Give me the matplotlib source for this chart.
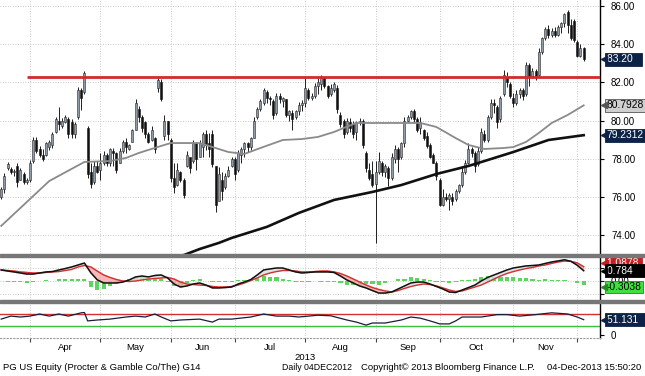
import numpy as np
import matplotlib
matplotlib.use("Agg")
import matplotlib.pyplot as plt
from matplotlib.patches import Rectangle
from matplotlib.ticker import FormatStrFormatter
from matplotlib.transforms import blended_transform_factory

W, H = 645, 376

# daily candles, 18-Mar-2013 .. 04-Dec-2013 (one entry per trading day)
opens = [76.0, 76.4, 77.5, 77.45, 77.3, 77.6, 76.9, 77.2, 76.8,
         76.9, 77.9, 79.0, 78.5, 78.2, 78.2, 78.6, 78.7, 79.4, 80.0, 79.7, 79.9, 80.1, 79.9, 79.3,
         80.2, 81.6, 81.5, 79.6, 77.3, 76.8, 77.6,
         77.4, 77.8, 78.2, 77.8, 78.4, 78.3, 77.8, 78.4, 78.9, 78.5, 78.9, 79.5, 80.6, 80.2, 79.9,
         79.3, 79.0, 79.1, 81.7, 82.0, 79.2, 80.0,
         79.0, 77.0, 76.6, 77.3, 76.9, 77.6, 78.1, 77.9, 78.8, 78.1, 78.6, 79.3, 78.8, 79.3, 77.6,
         75.8, 76.9, 76.5, 77.1, 77.6,
         78.0, 77.4, 78.2, 78.5, 78.8, 78.6, 79.1, 80.2, 80.6, 80.9, 81.5, 81.2, 81.0, 80.4, 81.3,
         81.0, 81.1, 80.3, 80.4, 80.2, 80.5, 80.8,
         80.9, 81.6, 81.2, 81.3, 81.8, 81.9, 82.2, 81.8, 81.4, 81.6, 81.7, 80.3, 80.0, 79.4, 79.9,
         79.8, 79.4, 79.9, 80.0, 78.3, 77.4, 77.2,
         76.7, 77.3, 77.8, 77.3, 77.5, 77.0, 78.0, 78.5, 78.1, 78.8, 80.0, 80.2, 80.5, 80.1, 79.6,
         79.5, 79.2, 78.7, 78.2, 77.8,
         76.9, 75.6, 76.0, 75.9, 76.0, 75.9, 76.3, 76.6, 77.3, 77.8, 78.5, 78.3, 77.7, 78.4, 79.3,
         79.0, 80.2, 80.9, 80.7, 80.1, 81.4, 82.3, 81.9,
         81.2, 80.9, 81.4, 81.6, 81.4, 82.9, 82.3, 82.6, 82.4, 83.6, 84.3, 84.8, 84.5, 84.7, 84.5,
         84.9, 85.1, 85.7, 85.0, 85.2,
         84.1, 83.4, 83.8]
highs = [76.5, 77.25, 77.85, 77.55, 77.45, 77.8, 77.5, 77.3, 77.0,
         77.95, 79.15, 79.15, 78.65, 78.5, 78.9, 79.0, 79.4, 80.2, 80.7, 80.15, 80.3, 80.2, 80.1, 79.9,
         81.75, 81.7, 82.6, 79.7, 77.8, 77.9, 77.9,
         78.3, 78.4, 78.3, 78.55, 78.55, 78.35, 78.55, 79.0, 79.1, 78.75, 79.55, 81.1, 80.75, 80.3, 80.0,
         79.4, 79.7, 79.15, 82.3, 82.15, 80.3, 80.0,
         79.1, 77.8, 77.8, 77.35, 77.0, 78.4, 78.1, 79.0, 78.85, 79.0, 79.4, 79.5, 79.35, 79.5, 77.6,
         77.55, 77.3, 77.25, 77.6, 78.1,
         78.1, 78.45, 78.6, 78.85, 78.85, 79.15, 80.2, 80.7, 81.1, 81.7, 81.6, 81.3, 81.1, 81.45, 81.45,
         81.25, 81.15, 80.55, 80.55, 80.55, 80.95, 81.05,
         82.2, 81.7, 81.45, 81.95, 82.2, 82.4, 82.3, 81.85, 81.9, 82.0, 81.85, 80.45, 80.1, 80.15, 80.15,
         80.0, 80.0, 80.15, 80.1, 78.4, 77.8, 77.9,
         77.9, 78.35, 77.9, 77.7, 77.6, 78.3, 78.7, 78.6, 78.85, 80.2, 80.3, 80.55, 80.6, 80.2, 80.2,
         79.55, 79.4, 78.8, 78.3, 77.9,
         77.0, 76.4, 76.2, 76.2, 76.2, 76.4, 76.7, 77.6, 77.95, 78.8, 78.6, 78.4, 78.6, 79.6, 79.5,
         80.3, 81.1, 81.1, 80.8, 81.3, 82.65, 82.55, 82.0,
         81.45, 81.6, 81.7, 81.7, 83.05, 83.0, 82.75, 82.7, 83.8, 84.35, 84.9, 85.0, 84.85, 84.9, 85.0,
         85.15, 85.65, 85.8, 85.3, 85.3,
         84.2, 84.0, 83.85]
lows = [75.9, 76.2, 77.4, 77.2, 77.1, 76.5, 76.9, 76.7, 76.65,
        76.8, 77.8, 78.3, 78.1, 77.9, 78.15, 78.45, 78.55, 79.35, 79.5, 79.6, 79.85, 79.1, 79.1, 79.1,
        80.1, 80.55, 81.4, 77.0, 76.45, 76.7, 77.25,
        76.9, 77.65, 77.6, 77.6, 77.6, 77.25, 77.8, 78.3, 78.3, 78.45, 78.9, 79.5, 79.9, 79.4, 79.1,
        78.8, 78.95, 78.3, 81.5, 81.0, 79.0, 79.0,
        76.8, 76.2, 76.55, 76.8, 75.95, 77.55, 77.25, 77.8, 77.4, 78.1, 78.1, 78.45, 78.1, 77.55, 75.2,
        75.8, 75.85, 76.4, 77.05, 77.55,
        76.9, 77.3, 77.8, 78.1, 78.35, 78.45, 79.1, 80.1, 80.5, 80.8, 80.9, 80.8, 80.1, 80.3, 80.9,
        80.7, 80.2, 80.0, 79.5, 80.1, 80.3, 80.5,
        80.7, 81.05, 81.05, 81.2, 81.4, 81.6, 81.7, 81.2, 81.3, 81.5, 80.4, 79.65, 79.1, 79.3, 79.4,
        79.1, 79.0, 79.75, 78.55, 77.3, 76.9, 76.5,
        73.6, 77.2, 77.1, 77.05, 76.55, 76.9, 77.8, 77.3, 78.0, 78.6, 79.9, 80.1, 79.9, 79.4, 79.3,
        78.98, 78.55, 78.05, 77.75, 76.9,
        75.5, 75.5, 75.8, 75.3, 75.6, 75.8, 76.2, 76.5, 77.2, 77.7, 78.1, 77.3, 77.6, 78.3, 78.9,
        78.9, 80.1, 80.4, 79.6, 79.9, 81.3, 81.75, 81.2,
        80.7, 80.8, 81.2, 81.05, 81.3, 81.8, 82.2, 82.1, 82.3, 83.5, 84.2, 84.3, 84.35, 84.35, 84.45,
        84.6, 84.9, 84.6, 84.2, 84.1,
        83.3, 83.3, 83.1]
closes = [76.4, 77.1, 77.7, 77.3, 77.35, 76.8, 77.4, 76.8, 76.9,
          77.8, 79.0, 78.4, 78.2, 78.0, 78.8, 78.9, 79.3, 80.1, 79.8, 80.0, 80.2, 79.3, 79.3, 79.8,
          81.6, 81.2, 82.5, 77.2, 76.7, 77.6, 77.3,
          77.8, 78.2, 77.8, 78.5, 78.3, 77.4, 78.4, 78.9, 78.6, 78.7, 79.5, 80.9, 80.2, 79.6, 79.3,
          78.9, 79.5, 78.5, 82.1, 81.1, 80.0, 79.3,
          77.0, 76.5, 77.4, 76.9, 76.1, 78.2, 77.5, 78.8, 78.0, 78.8, 79.3, 78.7, 78.5, 77.7, 75.6,
          77.2, 76.3, 77.1, 77.4, 78.0,
          77.2, 78.3, 78.5, 78.8, 78.6, 79.1, 80.0, 80.6, 81.0, 81.6, 81.2, 81.1, 80.3, 81.3, 81.1,
          81.2, 80.3, 80.5, 80.1, 80.5, 80.8, 80.9,
          81.7, 81.2, 81.3, 81.8, 82.0, 82.2, 81.8, 81.3, 81.7, 81.9, 80.6, 79.8, 79.3, 80.0, 79.6,
          79.3, 79.9, 80.0, 78.7, 77.5, 77.0, 76.6,
          77.3, 77.9, 77.3, 77.6, 77.0, 78.1, 78.5, 78.0, 78.8, 80.0, 80.2, 80.5, 80.1, 79.5, 79.9,
          79.1, 78.65, 78.1, 77.8, 77.1,
          75.6, 76.0, 75.9, 76.1, 75.8, 76.3, 76.6, 77.3, 77.8, 78.5, 78.3, 77.6, 78.4, 79.4, 79.0,
          80.2, 80.9, 80.8, 79.9, 81.2, 82.4, 82.0, 81.3,
          80.9, 81.4, 81.6, 81.3, 82.9, 82.3, 82.6, 82.3, 83.6, 84.3, 84.8, 84.5, 84.7, 84.5, 84.9,
          85.1, 85.6, 85.0, 84.3, 84.2,
          83.4, 83.8, 83.2]

# moving averages read at a few days (day index, price)
ma50_idx = [0, 15, 26, 34, 39, 43, 46, 50, 53, 62, 71, 76, 81, 88, 94, 99, 104, 107, 111, 116,
            125, 131, 136, 142, 146, 151, 157, 160, 164, 168, 172, 177, 182]
ma50_val = [74.48, 76.83, 77.83, 77.88, 78.04, 78.30, 78.46, 78.67, 78.82, 78.82, 78.35, 78.25,
            78.56, 78.98, 79.03, 79.14, 79.40, 79.61, 79.87, 79.87, 79.87, 79.87, 79.66, 79.08,
            78.72, 78.51, 78.56, 78.61, 78.88, 79.35, 79.87, 80.29, 80.7928]
ma200_idx = [57, 62, 68, 72, 83, 93, 104, 116, 125, 136, 146, 152, 160, 171, 182]
ma200_val = [72.95, 73.27, 73.59, 73.85, 74.43, 75.16, 75.84, 76.26, 76.62, 77.20, 77.62, 77.93,
             78.35, 78.98, 79.2312]

resistance = 82.3
resistance_from = 8

# MACD and signal, read every second day
macd_idx = list(range(0, 183, 2))
macd = [0.84, 0.76, 0.69, 0.61, 0.53, 0.53, 0.61, 0.69, 0.72, 0.84,
        0.95, 1.07, 1.22, 1.37, 0.63, 0.09, -0.15, -0.15, -0.15, -0.08,
        0.08, 0.31, 0.38, 0.31, 0.42, 0.46, 0.23, -0.23, -0.46, -0.38,
        -0.23, -0.15, -0.31, -0.53, -0.53, -0.50, -0.46, -0.23, -0.08, 0.11,
        0.46, 0.84, 0.92, 0.99, 0.99, 0.84, 0.69, 0.61, 0.65, 0.69,
        0.69, 0.69, 0.65, 0.38, 0.08, -0.15, -0.38, -0.53, -0.73, -0.92,
        -0.92, -0.84, -0.61, -0.38, -0.15, -0.08, -0.08, -0.23, -0.42, -0.61,
        -0.84, -0.88, -0.69, -0.50, -0.31, 0.00, 0.27, 0.46, 0.65, 0.84,
        0.99, 1.07, 1.15, 1.18, 1.22, 1.34, 1.45, 1.53, 1.62, 1.50,
        1.20, 0.784]
signal = [0.84, 0.80, 0.76, 0.69, 0.65, 0.61, 0.61, 0.65, 0.69, 0.72,
          0.80, 0.88, 1.07, 1.18, 1.07, 0.76, 0.46, 0.27, 0.11, 0.00,
          -0.04, 0.00, 0.08, 0.15, 0.19, 0.23, 0.27, 0.15, -0.08, -0.23,
          -0.27, -0.31, -0.34, -0.42, -0.46, -0.46, -0.42, -0.31, -0.15, 0.04,
          0.23, 0.46, 0.61, 0.72, 0.80, 0.80, 0.76, 0.69, 0.69, 0.72,
          0.76, 0.76, 0.69, 0.57, 0.38, 0.15, -0.08, -0.31, -0.50, -0.65,
          -0.76, -0.84, -0.73, -0.57, -0.42, -0.31, -0.23, -0.27, -0.38, -0.53,
          -0.69, -0.80, -0.76, -0.61, -0.46, -0.31, -0.08, 0.15, 0.38, 0.57,
          0.72, 0.84, 0.95, 1.03, 1.15, 1.22, 1.34, 1.45, 1.52, 1.50,
          1.38, 1.0878]

# RSI read at a few days
rsi_idx = [0, 3, 6, 9, 12, 15, 18, 21, 25, 26, 27, 30, 34, 39, 42, 45, 48, 50, 53, 56, 62, 66,
           68, 72, 78, 82, 86, 90, 93, 99, 103, 108, 111, 114, 116, 120, 125, 128, 131, 134,
           137, 140, 142, 144, 150, 155, 158, 162, 167, 172, 177, 180, 182]
rsi_val = [53, 63, 60, 63, 70, 63, 70, 63, 74, 75, 47, 50, 53, 60, 63, 60, 70, 60, 47, 50, 53, 43,
           53, 53, 60, 70, 63, 63, 60, 66, 64, 50, 43, 33, 40, 40, 50, 60, 56, 47,
           37, 37, 47, 60, 60, 68, 68, 63, 68, 74, 70, 60, 51.131]

month_names = ["Apr", "May", "Jun", "Jul", "Aug", "Sep", "Oct", "Nov"]
month_starts = [9, 31, 53, 73, 95, 117, 137, 160, 180]

plt.rcParams['font.family'] = ['Liberation Sans', 'DejaVu Sans']

fig = plt.figure(figsize=(W / 100, H / 100), dpi=100)


def px_axes(left, top, right, bottom):
    return fig.add_axes([left / W, 1 - bottom / H, (right - left) / W, (bottom - top) / H])


def tag(ax, value, text, fc, tc, ec=None, z=10):
    # Bloomberg style last-value tag on the right axis
    tr = blended_transform_factory(ax.transAxes, ax.transData)
    ax.text(1.011, value, text, transform=tr, ha='left', va='center', fontsize=7.4, color=tc,
            bbox=dict(boxstyle='square,pad=0.14', fc=fc, ec=ec or fc, lw=0.6),
            clip_on=False, zorder=z)
    ax.plot([1.006], [value], marker='<', ms=5, color=ec or fc, transform=tr,
            clip_on=False, zorder=z)


xlim = (-0.375, 187.1)
grid_kw = dict(color='#b8b8b8', linestyle=(0, (1, 2)), linewidth=0.6)

ax = px_axes(0, 0, 600, 254)
axm = px_axes(0, 257, 600, 300)
axr = px_axes(0, 303, 600, 338)

for a in (ax, axm, axr):
    a.set_xlim(*xlim)
    a.set_xticks(month_starts)
    a.xaxis.grid(True, **grid_kw)
    a.yaxis.grid(True, **grid_kw)
    a.set_axisbelow(True)
    a.yaxis.tick_right()
    a.tick_params(axis='x', length=0, labelbottom=False)
    a.tick_params(axis='y', direction='out', length=3, pad=5, labelsize=7, width=0.8)
    for s in ('top', 'left', 'bottom'):
        a.spines[s].set_visible(False)
    a.spines['right'].set_linewidth(1.0)

# price panel
o = np.array(opens)
h = np.array(highs)
l = np.array(lows)
c = np.array(closes)
x = np.arange(len(c))
up = c >= o
bottom = np.minimum(o, c)
height = np.maximum(np.abs(c - o), 0.05)
ax.vlines(x, l, h, color='#1e1e1e', lw=0.7, zorder=3)
ax.bar(x[up], height[up], bottom=bottom[up], width=0.62, color='#8e9ba8',
       edgecolor='#262626', linewidth=0.4, zorder=4)
ax.bar(x[~up], height[~up], bottom=bottom[~up], width=0.62, color='#111111',
       edgecolor='#111111', linewidth=0.4, zorder=4)
ax.plot(ma50_idx, ma50_val, color='#8a8a8a', lw=1.3, zorder=5)
ax.plot(ma200_idx, ma200_val, color='#111111', lw=1.9, zorder=5)
ax.hlines(resistance, resistance_from, xlim[1], color='#d42a2a', lw=2.0, zorder=6)
ax.set_ylim(73.01, 86.31)
ax.set_yticks(np.arange(74, 87, 2))
ax.yaxis.set_major_formatter(FormatStrFormatter('%.2f'))

tag(ax, c[-1], '83.20   ', '#0c2247', 'white')
tag(ax, ma50_val[-1], '80.7928', '#cfcfcf', 'black', ec='#555555')
tag(ax, ma200_val[-1], '79.2312', '#0c2247', 'white')

# MACD panel
mi = np.array(macd_idx)
mv = np.array(macd)
sv = np.array(signal)
axm.bar(mi, mv - sv, width=1.3, color='#5fd35f', zorder=2)
axm.fill_between(mi, mv, sv, where=sv >= mv, interpolate=True, color='#f4a6a6', alpha=0.8, zorder=3)
axm.fill_between(mi, mv, sv, where=sv < mv, interpolate=True, color='#dddddd', alpha=0.8, zorder=3)
axm.plot(mi, sv, color='#d43030', lw=1.0, zorder=4)
axm.plot(mi, mv, color='#111111', lw=1.1, zorder=5)
axm.set_ylim(-1.45, 1.83)
axm.set_yticks([-1, 0, 1])
axm.set_yticklabels(['', '0.00', ''])
# tags are nudged apart the way the terminal stacks them
tag(axm, sv[-1] + 0.3, '1.0878 ', '#c81e1e', 'white', z=8)
tag(axm, mv[-1], '0.784    ', '#000000', 'white', z=9)
tag(axm, (mv - sv)[-1] - 0.15, '-0.3038', '#3ee03e', 'black', ec='#208a20', z=10)

# RSI panel
axr.axhline(70, color='#d43030', lw=1.0)
axr.axhline(30, color='#3cbf3c', lw=1.0)
axr.plot(rsi_idx, rsi_val, color='#14203c', lw=0.9)
axr.set_ylim(-10, 106.7)
axr.set_yticks([0])
axr.set_yticklabels(['0'])
axr.yaxis.grid(False)
axr.spines['bottom'].set_visible(True)
axr.spines['bottom'].set_linestyle((0, (1, 2)))
axr.spines['bottom'].set_color('#9a9a9a')
axr.tick_params(axis='x', direction='out', length=3, color='#444444', width=0.8)
tag(axr, rsi_val[-1], '51.131  ', '#0c2247', 'white')

# panel separators
for top in (254, 300):
    fig.add_artist(Rectangle((0, 1 - (top + 3) / H), 1, 3 / H, transform=fig.transFigure,
                             color='#777777', zorder=20))

# month labels and footer
tr = blended_transform_factory(axr.transData, fig.transFigure)
for i, name in enumerate(month_names):
    mid = (month_starts[i] + month_starts[i + 1]) / 2
    axr.text(mid, 1 - 347 / H, name, transform=tr, ha='center', va='center', fontsize=6.8)
axr.text(month_starts[4], 1 - 357 / H, '2013', transform=tr, ha='center', va='center', fontsize=6.8)

fy = 1 - 368 / H
fig.text(3 / W, fy, 'PG US Equity (Procter & Gamble Co/The) G14', ha='left', va='center', fontsize=6.8)
fig.text(282 / W, fy, 'Daily 04DEC2012', ha='left', va='center', fontsize=6.3)
fig.text(361 / W, fy, 'Copyright\u00a9 2013 Bloomberg Finance L.P.', ha='left', va='center', fontsize=6.8)
fig.text(641 / W, fy, '04-Dec-2013 15:50:20', ha='right', va='center', fontsize=6.8)

fig.savefig('out.png', dpi=100, facecolor='white')
